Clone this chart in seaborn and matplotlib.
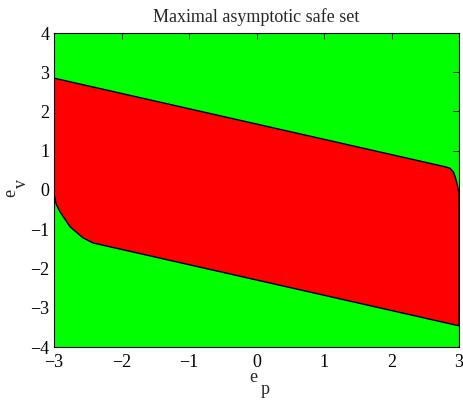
import matplotlib
matplotlib.use('Agg')
import matplotlib.pyplot as plt
import seaborn as sns

# Boundary of the safe set (clockwise from top-left).
e_p = [-3.00, 2.80, 2.87, 2.92, 2.95, 2.98, 3.00, 3.00,
       -2.42, -2.57, -2.76, -2.91, -2.97, -3.00]
e_v = [2.85, 0.59, 0.55, 0.45, 0.30, 0.10, -0.10, -3.46,
       -1.35, -1.22, -0.94, -0.56, -0.35, -0.10]

x_ticks = [-3, -2, -1, 0, 1, 2, 3]
y_ticks = [-4, -3, -2, -1, 0, 1, 2, 3, 4]

sns.set_theme(style='white')
plt.rcParams['font.family'] = ['Liberation Serif', 'DejaVu Serif']

W, H = 463, 401
fig = plt.figure(figsize=(W / 100, H / 100), dpi=100)
ax = fig.add_axes([54 / W, 1 - 347 / H, 405 / W, 314 / H])
ax.set_facecolor('#00ff00')

ax.fill(e_p, e_v, facecolor='#ff0000', edgecolor='black', linewidth=1.0,
        zorder=2)

ax.set_xlim(-3, 3)
ax.set_ylim(-4, 4)
ax.set_xticks(x_ticks)
ax.set_yticks(y_ticks)
ax.set_xticklabels([str(t).replace('-', '\u2212') for t in x_ticks])
ax.set_yticklabels([str(t).replace('-', '\u2212') for t in y_ticks])
ax.tick_params(axis='x', pad=5)
ax.tick_params(direction='in', length=4, width=0.6, top=True, right=True,
               labelsize=13, colors='black')
for s in ax.spines.values():
    s.set_color('black')
    s.set_linewidth(0.8)

ax.set_title('Maximal asymptotic safe set', fontsize=13, pad=8)

# axis labels with MATLAB-style low subscripts
fig.text(253 / W, 1 - 378 / H, 'e', fontsize=13, ha='center', va='center')
fig.text(265 / W, 1 - 390 / H, 'p', fontsize=13, ha='center', va='center')
fig.text(11 / W, 1 - 193 / H, 'e', fontsize=13, ha='center', va='center',
         rotation=90)
fig.text(22 / W, 1 - 183 / H, 'v', fontsize=13, ha='center', va='center',
         rotation=90)

fig.savefig('out.png', dpi=100)
